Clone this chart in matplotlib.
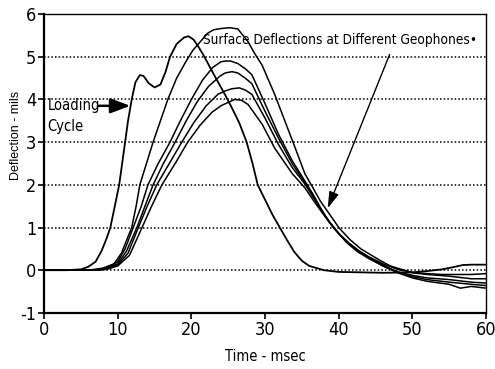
import numpy as np
import matplotlib.pyplot as plt

# loading cycle (time ms, deflection mils)
load_t = [0, 3, 5, 6, 7, 7.8, 8.5, 9.0, 9.6, 10.2, 10.6, 11.0, 11.4, 11.9, 12.4, 13.0, 13.5,
          14.2, 15.0, 15.8, 16.5, 17.1, 18.0, 19.0, 19.6, 20.3, 21.0, 21.6, 23.0, 24.6, 25.5,
          26.5, 27.5, 28.3, 29.0, 30.0, 31.0, 32.0, 33.0, 34.0, 35.0, 36.0, 38.0, 40, 43, 46,
          50, 52, 54, 55.5, 56.8, 58, 60]
load_d = [0, 0, 0.02, 0.08, 0.2, 0.45, 0.75, 1.0, 1.5, 2.0, 2.5, 3.0, 3.5, 4.0, 4.4, 4.57, 4.55,
          4.38, 4.28, 4.35, 4.65, 5.0, 5.3, 5.45, 5.48, 5.4, 5.22, 5.05, 4.6, 4.1, 3.8,
          3.45, 3.0, 2.5, 2.0, 1.65, 1.3, 1.0, 0.7, 0.42, 0.22, 0.1, 0.0, -0.04, -0.05, -0.06,
          -0.05, -0.02, 0.02, 0.07, 0.12, 0.13, 0.13]

# geophone traces
g1_t = [0, 6, 8, 9.5, 10.5, 11.2, 11.9, 12.5, 13.0, 13.9, 14.8, 15.8, 16.8, 18.0, 19.3, 20.2,
        21.2, 22.2, 23.0, 24.0, 25.2, 26.3, 27.0, 27.7, 28.5, 29.6, 31.3, 32.7, 34.1, 35.4, 36.5,
        37.5, 38.8, 40.0, 41.5, 43.0, 45.6, 47.0, 48.5, 50, 52, 54, 56, 58, 60]
g1_d = [0, 0, 0.05, 0.15, 0.4, 0.7, 1.0, 1.5, 2.0, 2.5, 3.0, 3.5, 4.0, 4.5, 4.9, 5.15,
        5.35, 5.55, 5.63, 5.66, 5.68, 5.65, 5.5, 5.35, 5.1, 4.8, 4.12, 3.49, 2.86, 2.26, 1.93,
        1.62, 1.3, 1.0, 0.72, 0.5, 0.23, 0.1, 0.02, -0.05, -0.08, -0.1, -0.1, -0.1, -0.08]

g2_t = [0, 7, 8.5, 10, 11, 12.1, 13.2, 14.1, 15.5, 17.1, 18.5, 20.0, 21.5, 22.9, 24.0, 24.6, 25.3,
        26.3, 27.3, 28.2, 30.0, 31.8, 33.7, 35.4, 36.5, 37.5, 38.5, 39.5, 41, 42.5, 44, 46, 48,
        50, 52, 55, 58, 60]
g2_d = [0, 0, 0.05, 0.2, 0.5, 1.0, 1.5, 2.0, 2.5, 3.0, 3.5, 4.0, 4.45, 4.75, 4.88, 4.9, 4.9,
        4.84, 4.72, 4.58, 3.9, 3.19, 2.56, 2.09, 1.78, 1.47, 1.18, 0.95, 0.68, 0.48, 0.32, 0.15, 0.02,
        -0.06, -0.1, -0.14, -0.2, -0.2]

g3_t = [0, 7, 8.5, 10, 11.2, 12.6, 13.7, 14.8, 16.2, 17.8, 19.3, 20.8, 22.3, 23.9, 24.6, 25.5,
        26.3, 27.3, 28.2, 30.0, 31.8, 33.7, 35.4, 36.5, 37.5, 38.6, 39.8, 41, 42.5, 44, 46, 48,
        50, 52, 55, 58, 60]
g3_d = [0, 0, 0.04, 0.15, 0.45, 1.0, 1.5, 2.0, 2.5, 3.0, 3.5, 3.95, 4.3, 4.55, 4.62, 4.65,
        4.62, 4.5, 4.37, 3.72, 3.1, 2.49, 2.05, 1.75, 1.45, 1.15, 0.9, 0.66, 0.44, 0.28, 0.1, -0.04,
        -0.12, -0.18, -0.22, -0.28, -0.3]

g4_t = [0, 7, 8.5, 10, 11.4, 12.8, 14.0, 15.3, 17.0, 18.7, 20.3, 22.0, 23.6, 24.6, 25.5, 26.5,
        27.3, 28.2, 30.0, 31.8, 33.7, 35.4, 36.5, 37.6, 38.8, 40.0, 41.5, 43, 44.5, 46, 48,
        50, 52, 55, 58, 60]
g4_d = [0, 0, 0.03, 0.12, 0.4, 1.0, 1.5, 2.0, 2.5, 3.0, 3.45, 3.85, 4.12, 4.2, 4.25, 4.27,
        4.22, 4.12, 3.56, 2.95, 2.4, 2.02, 1.72, 1.42, 1.12, 0.86, 0.62, 0.42, 0.26, 0.12, -0.04,
        -0.15, -0.22, -0.28, -0.33, -0.36]

g5_t = [0, 7, 8.5, 10, 11.6, 13.3, 14.6, 16.0, 17.8, 19.5, 21.2, 22.8, 24.0, 24.6, 25.9, 26.8,
        27.7, 29.6, 31.3, 33.7, 35.4, 36.5, 37.7, 39.0, 40.2, 41.6, 43, 44.5, 46, 48,
        50, 52, 55, 56.5, 58, 60]
g5_d = [0, 0, 0.02, 0.1, 0.35, 1.0, 1.5, 2.0, 2.5, 3.0, 3.4, 3.7, 3.85, 3.9, 4.0, 3.98,
        3.88, 3.42, 2.86, 2.26, 1.93, 1.65, 1.36, 1.06, 0.82, 0.58, 0.4, 0.25, 0.1, -0.06,
        -0.18, -0.26, -0.33, -0.42, -0.38, -0.42]

geo_t = [g1_t, g2_t, g3_t, g4_t, g5_t]
geo_d = [g1_d, g2_d, g3_d, g4_d, g5_d]

yticks = [-1, 0, 1, 2, 3, 4, 5, 6]
xticks = [0, 10, 20, 30, 40, 50, 60]

fnt = dict(family='DejaVu Sans', stretch='condensed')

fig = plt.figure(figsize=(4.95, 3.69), dpi=100)
ax = fig.add_axes([0.089, 0.152, 0.893, 0.810])

for y in range(0, 6):
    ax.axhline(y, color='black', lw=1.1, ls=(0, (1, 1.4)), zorder=1)

ax.plot(load_t, load_d, color='black', lw=1.3, zorder=3)
for t, d in zip(geo_t, geo_d):
    ax.plot(t, d, color='black', lw=1.1, zorder=3)

ax.set_xlim(0, 60)
ax.set_ylim(-1, 6)
ax.set_xticks(xticks)
ax.set_yticks(yticks)
ax.set_xticklabels([str(v) for v in xticks], fontsize=13, **fnt)
ax.set_yticklabels([str(v) for v in yticks], fontsize=13, **fnt)
ax.tick_params(direction='out', length=4, width=1.2, pad=1.5)

for s in ['left', 'bottom']:
    ax.spines[s].set_linewidth(1.6)
for s in ['top', 'right']:
    ax.spines[s].set_linewidth(1.0)

ax.set_xlabel('Time - msec', fontsize=10.5, **fnt)
ax.xaxis.set_label_coords(0.5, -0.122)
ax.set_ylabel('Deflection - mils', family='Liberation Sans', fontsize=9)
ax.yaxis.set_label_coords(-0.05, 0.595)

ax.text(0.5, 3.62, 'Loading\nCycle', fontsize=10.5, ha='left', va='center',
        linespacing=1.5, zorder=4, **fnt)
ax.annotate('', xy=(11.7, 3.85), xytext=(7.3, 3.85),
            arrowprops=dict(arrowstyle='-|>,head_length=1.2,head_width=0.45', color='black',
                            lw=1.8, shrinkA=0, shrinkB=0), zorder=4)

ax.text(21.6, 5.38, 'Surface Deflections at Different Geophones\u2022',
        fontsize=9.8, ha='left', va='center', zorder=4, **fnt)
ax.annotate('', xy=(38.5, 1.45), xytext=(46.9, 5.05),
            arrowprops=dict(arrowstyle='-|>,head_length=1.0,head_width=0.3', color='black',
                            lw=1.0, shrinkA=0, shrinkB=0), zorder=4)

fig.savefig('out.png', dpi=100)
